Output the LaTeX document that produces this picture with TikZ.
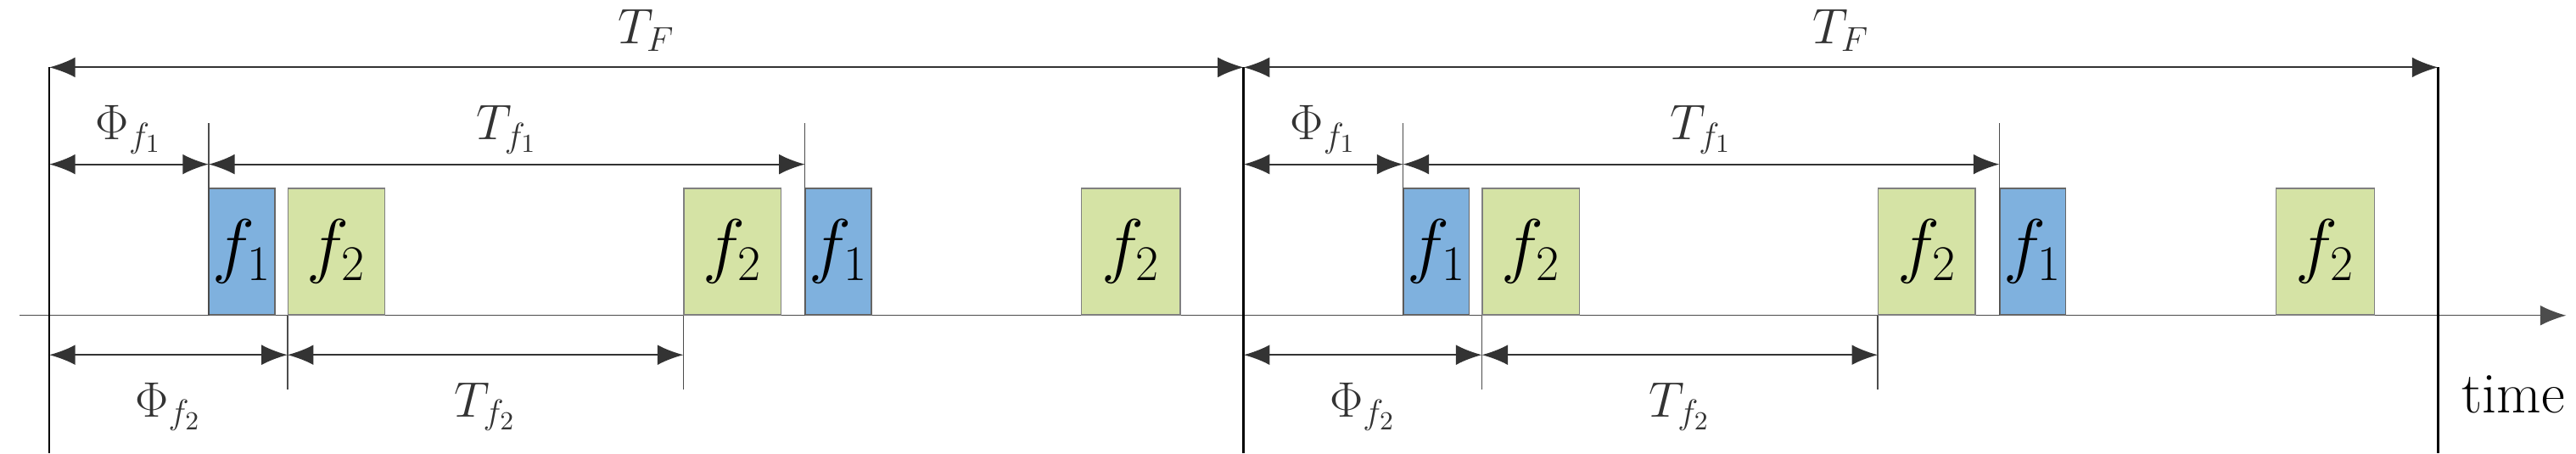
\documentclass[tikz,border=0pt]{standalone}
\usetikzlibrary{arrows.meta}
\definecolor{slotblue}{HTML}{7FB1DE}
\definecolor{slotgreen}{HTML}{D5E3A5}
\newcommand{\tipsize}{Latex[length=9pt,width=7pt]}
\tikzset{
  slotone/.style={draw=black!60, fill=slotblue, minimum height=77*0.02cm, inner sep=0pt, anchor=south west, font=\fontsize{26}{28}\selectfont},
  slottwo/.style={draw=black!50, fill=slotgreen, minimum height=77*0.02cm, inner sep=0pt, anchor=south west, font=\fontsize{26}{28}\selectfont},
  dim/.style={semithick, black!80, {\tipsize}-{\tipsize}},
  lbl/.style={font=\fontsize{18}{20}\selectfont}
}
\begin{document}
\begin{tikzpicture}[x=0.02cm,y=-0.02cm]
  \useasboundingbox (0,0) rectangle (1568,276);
        % time axis
        \coordinate (ax0) at (12,192);
        \coordinate (ax1) at (1562,192);
        \draw[black!70, -{\tipsize}] (ax0) -- (ax1);
        \node (time) at (1530,240) [lbl, font=\fontsize{20}{22}\selectfont] {time};

        % frame borders
        \foreach \x/\n in {30/a, 757/b, 1484/c} {
          \coordinate (top\n) at (\x,41);
          \coordinate (bot\n) at (\x,276);
          \draw[thick] (top\n) -- (bot\n);
        }
        \draw[dim] (topa) -- (topb) node[midway, above=2pt, lbl] {$T_F$};
        \draw[dim] (topb) -- (topc) node[midway, above=2pt, lbl] {$T_F$};

        \foreach \s/\n in {0/a, 727/b} {
          \begin{scope}[xshift=\s*0.02cm]
          % slots
          \node (one\n) at (127,192) [slotone, minimum width=40*0.02cm] {$f_1$};
          \node (two\n) at (175,192) [slottwo, minimum width=59*0.02cm] {$f_2$};
          \node (twob\n) at (416,192) [slottwo, minimum width=59*0.02cm] {$f_2$};
          \node (oneb\n) at (490,192) [slotone, minimum width=40*0.02cm] {$f_1$};
          \node (twoc\n) at (658,192) [slottwo, minimum width=60*0.02cm] {$f_2$};
          % ticks
          \coordinate (s\n) at (30,100);
          \coordinate (p\n) at (127,100);
          \coordinate (q\n) at (490,100);
          \coordinate (u\n) at (30,216);
          \coordinate (v\n) at (175,216);
          \coordinate (w\n) at (416,216);
          \draw[thin, black!70] (127,75) -- (one\n.south west) (490,75) -- (oneb\n.south west)
            (two\n.south west) -- (175,237) (twob\n.south west) -- (416,237);
          % periods
          \draw[dim] (s\n) -- (p\n) node[midway, above, lbl] {$\Phi_{f_1}$};
          \draw[dim] (p\n) -- (q\n) node[midway, above, lbl] {$T_{f_1}$};
          \draw[dim] (u\n) -- (v\n) node[midway, below=6pt, lbl] {$\Phi_{f_2}$};
          \draw[dim] (v\n) -- (w\n) node[midway, below=6pt, lbl] {$T_{f_2}$};
          \end{scope}
        }
\end{tikzpicture}
\end{document}
